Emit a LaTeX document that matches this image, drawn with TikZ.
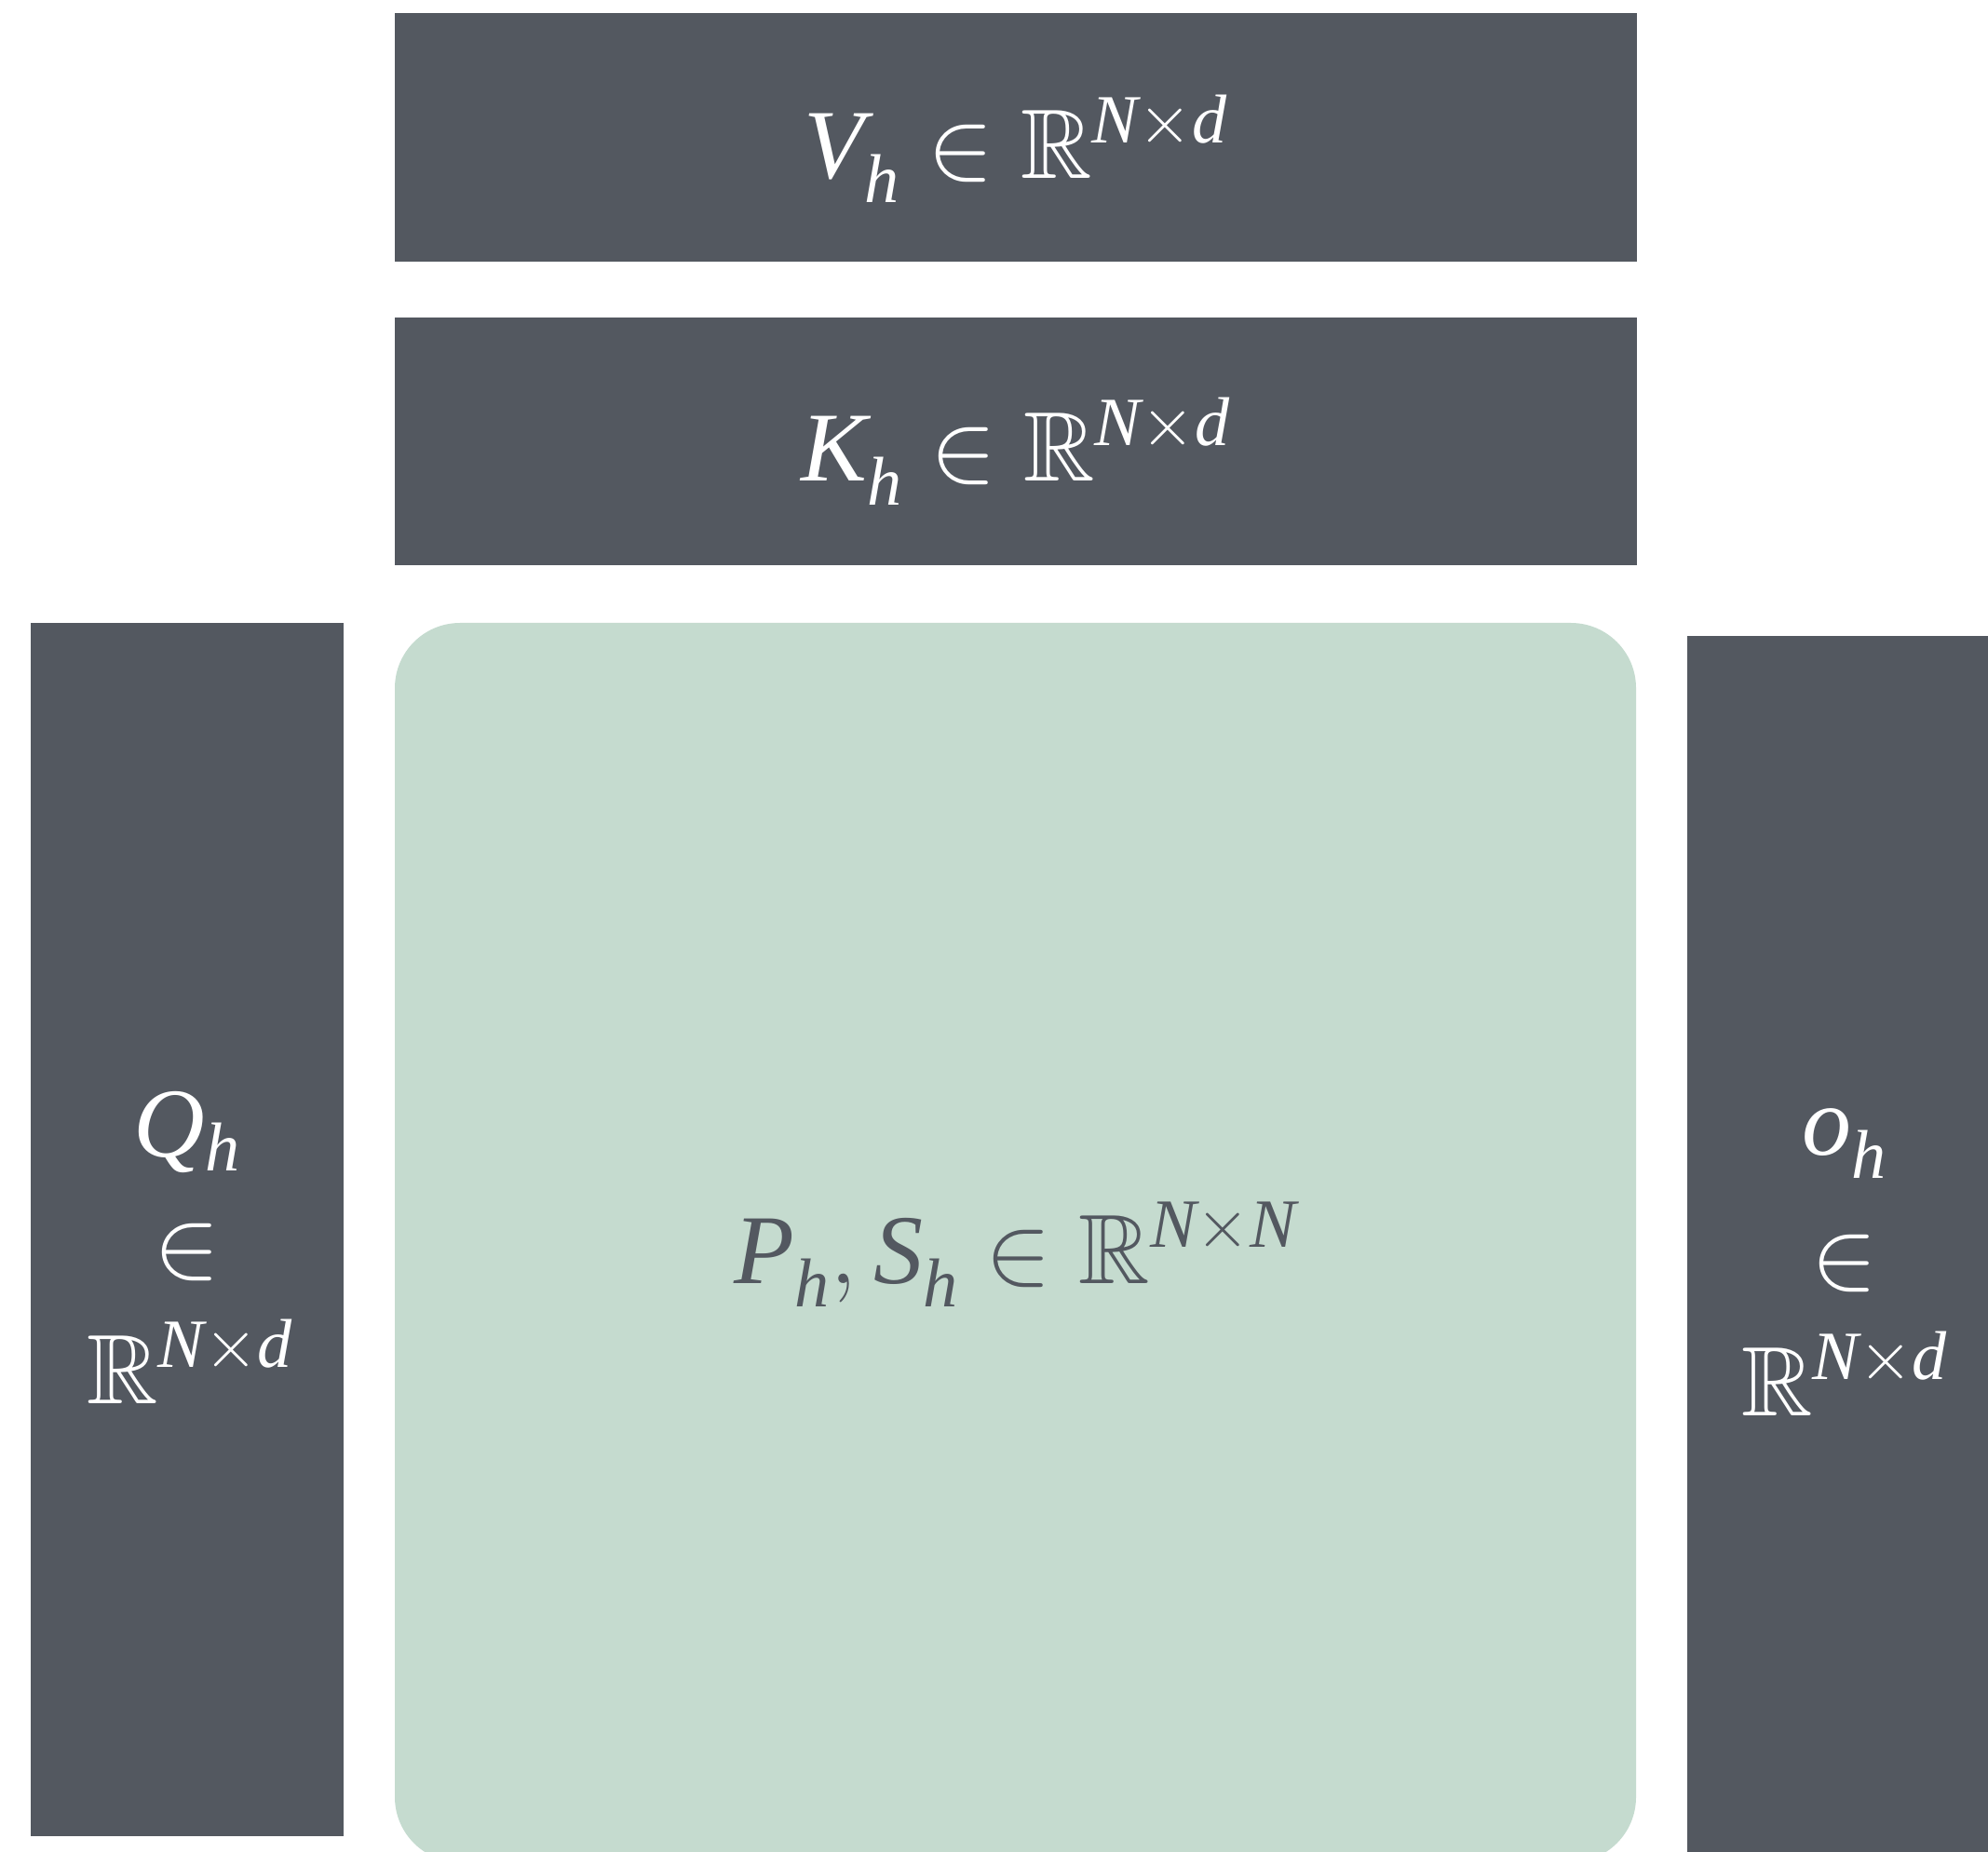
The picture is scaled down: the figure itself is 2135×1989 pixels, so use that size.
\documentclass[tikz,border=0pt]{standalone}
\usepackage{fix-cm}
\usepackage{amssymb}
\usepackage{fontspec}
\setmainfont{Liberation Serif}
\definecolor{boxgray}{RGB}{83,88,96}
\definecolor{mint}{RGB}{197,219,207}
\newcommand{\mi}[1]{\mathit{#1}}
\newcommand{\lowh}{_{\lower5pt\hbox{$\scriptstyle\mathit{h}$}}}
\begin{document}
\begin{tikzpicture}[x=0.5pt,y=-0.5pt,
  darkbox/.style={fill=boxgray},
  greenbox/.style={fill=mint, rounded corners=35pt},
  lbl/.style={anchor=base, inner sep=0pt, font=\fontsize{53}{64}\selectfont},
  wlbl/.style={lbl, text=white},
  glbl/.style={lbl, text=boxgray}]
\useasboundingbox (0,0) rectangle (2135,1989);
\clip (0,0) rectangle (2135,1989);
% boxes
\path[darkbox] (424,14) rectangle (1758,281);
\path[darkbox] (424,341) rectangle (1758,607);
\path[darkbox] (33,669) rectangle (369,1972);
\path[greenbox] (424,669) rectangle (1757,2000);
\path[darkbox] (1812,683) rectangle (2150,2010);
% labels
\node[wlbl] (vlab) at (1091,192) {$\mi{V}\lowh \in \mathbb{R}^{\mi{N}\times \mi{d}}$};
\node[wlbl] (klab) at (1091,517) {$\mi{K}\lowh \in \mathbb{R}^{\mi{N}\times \mi{d}}$};
\node[wlbl] (q1) at (201,1242) {$\mi{Q}_{\mi{h}}$};
\node[wlbl] (q2) at (201,1371) {$\in$};
\node[wlbl] (q3) at (204,1507) {$\mathbb{R}^{\mi{N}\times \mi{d}}$};
\node[wlbl] (o1) at (1981,1240) {$\mi{o}\lowh$};
\node[wlbl] (o2) at (1981,1383) {$\in$};
\node[wlbl] (o3) at (1981,1520) {$\mathbb{R}^{\mi{N}\times \mi{d}}$};
\node[glbl] (plab) at (1091,1378) {$\mi{P}\lowh, \mi{S}\lowh \in \mathbb{R}^{\mi{N}\times \mi{N}}$};
\end{tikzpicture}
\end{document}
